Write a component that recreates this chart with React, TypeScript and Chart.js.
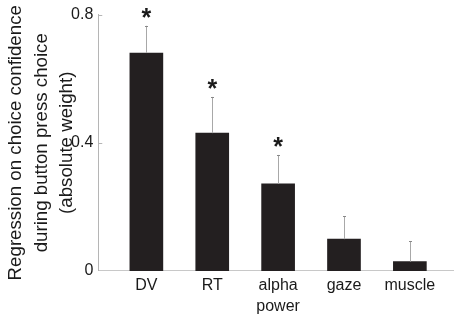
import React, { useEffect, useRef } from "react";
import { Chart, registerables } from "chart.js";

Chart.register(...registerables);

const categories: (string | string[])[] = ["DV", "RT", ["alpha", "power"], "gaze", "muscle"];
const weights = [0.68, 0.43, 0.272, 0.099, 0.029];
const errors = [0.085, 0.113, 0.09, 0.072, 0.064];
const significant = [true, true, true, false, false];
const yTicks = [0, 0.4, 0.8];

const FONT = "'Liberation Sans', Arial, Helvetica, sans-serif";

const overlayPlugin = {
  id: "overlay",
  afterDatasetsDraw(chart: any) {
    const { ctx, scales } = chart;
    const xs = scales.x;
    const ys = scales.y;
    ctx.save();
    ctx.strokeStyle = "#b5b5b5";
    ctx.lineWidth = 1;
    yTicks.forEach((t) => {
      if (t === 0) return;
      const y = Math.round(ys.getPixelForValue(t)) + 0.5;
      ctx.beginPath();
      ctx.moveTo(xs.left, y);
      ctx.lineTo(xs.left + 4, y);
      ctx.stroke();
    });
    weights.forEach((v, i) => {
      const x = Math.round(xs.getPixelForValue(i + 1)) + 0.5;
      const y0 = ys.getPixelForValue(v);
      const y1 = ys.getPixelForValue(v + errors[i]);
      ctx.strokeStyle = "#a8a8a8";
      ctx.beginPath();
      ctx.moveTo(x, y0);
      ctx.lineTo(x, y1);
      ctx.stroke();
      ctx.strokeStyle = "#888";
      ctx.beginPath();
      ctx.moveTo(x - 1.5, Math.round(y1) + 0.5);
      ctx.lineTo(x + 1.5, Math.round(y1) + 0.5);
      ctx.stroke();
      if (significant[i]) {
        ctx.fillStyle = "#1a1a1a";
        ctx.font = `bold 25px ${FONT}`;
        ctx.textAlign = "center";
        ctx.textBaseline = "alphabetic";
        const m = ctx.measureText("*");
        const asc = m.actualBoundingBoxAscent;
        const desc = m.actualBoundingBoxDescent;
        const cy = y1 - 12.5;
        const baseline = cy + (asc - desc) / 2;
        ctx.fillText("*", xs.getPixelForValue(i + 1), baseline);
      }
    });
    ctx.restore();
  },
};

export default function App() {
  const ref = useRef<HTMLCanvasElement | null>(null);
  useEffect(() => {
    document.body.style.margin = "0";
    const canvas = ref.current;
    if (!canvas) return;
    const chart = new Chart(canvas, {
      type: "bar",
      data: {
        datasets: [
          {
            data: weights.map((v, i) => ({ x: i + 1, y: v })),
            backgroundColor: "#231f20",
            borderWidth: 0,
            barThickness: 33,
          },
        ],
      },
      options: {
        animation: false,
        responsive: false,
        maintainAspectRatio: false,
        layout: { padding: { top: 12, right: 0, bottom: -3.5, left: 0 } },
        plugins: { legend: { display: false }, tooltip: { enabled: false }, title: { display: false } },
        scales: {
          x: {
            type: "linear",
            min: 0.27,
            max: 5.67,
            offset: false,
            afterBuildTicks: (scale: any) => {
              scale.ticks = categories.map((_, i) => ({ value: i + 1 }));
            },
            ticks: {
              autoSkip: false,
              maxRotation: 0,
              color: "#1a1a1a",
              padding: 4,
              font: { family: FONT, size: 16, lineHeight: 1.3 },
              callback: (v: any) => categories[Math.round(v) - 1],
            },
            grid: { display: false, drawTicks: false, offset: false },
            border: { display: true, color: "#c8c8c8", width: 1 },
          },
          y: {
            min: 0,
            max: 0.8,
            afterBuildTicks: (scale: any) => {
              scale.ticks = yTicks.map((v) => ({ value: v }));
            },
            ticks: {
              color: "#1a1a1a",
              padding: 5,
              font: { family: FONT, size: 16 },
              callback: (v: any) => (v === 0 ? "0" : Number(v).toFixed(1)),
            },
            grid: { display: false, drawTicks: false },
            border: { display: true, color: "#b5b5b5", width: 1 },
            title: {
              display: true,
              text: ["Regression on choice confidence", "during button press choice", "(absolute weight)"],
              color: "#1a1a1a",
              font: { family: FONT, size: 18.7, lineHeight: 1.35 },
              padding: { top: 3.5, bottom: -13.2 },
            },
          },
        },
      },
      plugins: [overlayPlugin],
    });
    return () => chart.destroy();
  }, []);
  return <canvas ref={ref} width={454} height={317} style={{ display: "block", width: 454, height: 317 }} />;
}
